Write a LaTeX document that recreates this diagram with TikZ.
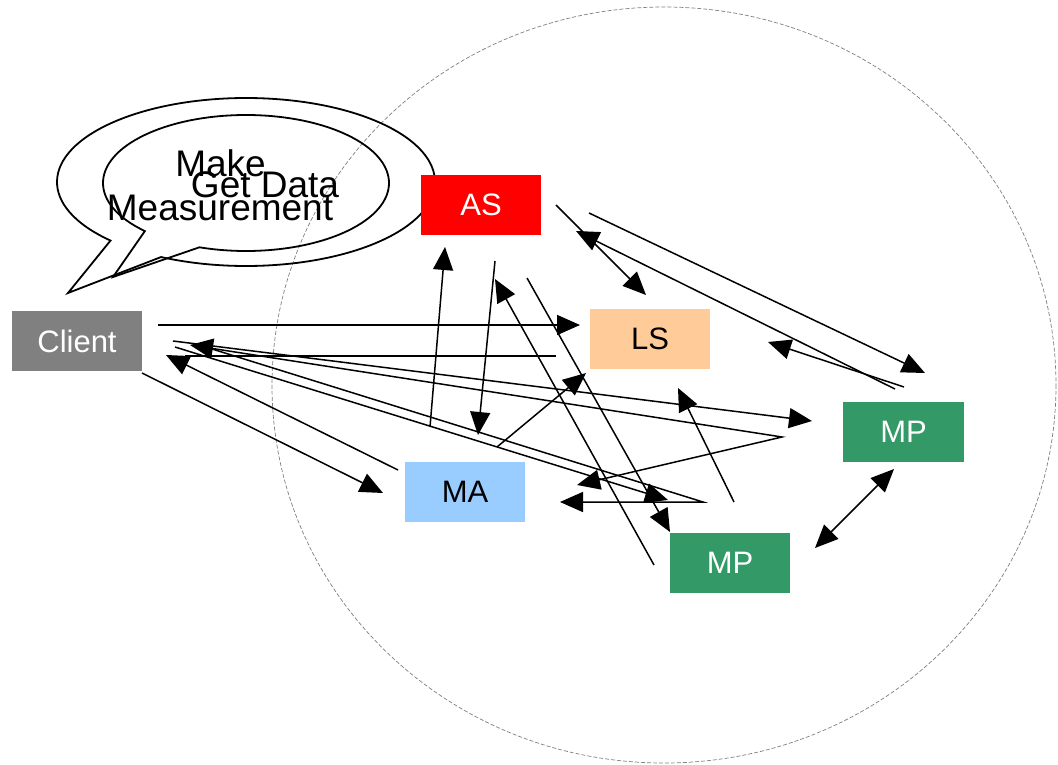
\documentclass[tikz,border=0pt]{standalone}
\usepackage{fontspec}
\setmainfont{Liberation Sans}
\usetikzlibrary{arrows.meta}
\definecolor{asred}{HTML}{FF0000}
\definecolor{lspeach}{HTML}{FFCC99}
\definecolor{clgray}{HTML}{808080}
\definecolor{mablue}{HTML}{99CCFF}
\definecolor{mpgreen}{HTML}{339966}
\tikzset{
  box/.style={rectangle, inner sep=0pt, minimum width=120pt, minimum height=60pt, font=\fontsize{31}{37}\selectfont},
  conn/.style={line width=1.5pt, -{Triangle[length=23pt,width=20pt]}},
  dconn/.style={line width=1.5pt, {Triangle[length=23pt,width=20pt]}-{Triangle[length=23pt,width=20pt]}},
  plainconn/.style={line width=1.5pt},
  bubble/.style={line width=1.8pt, line join=miter},
  bubtext/.style={anchor=base, inner sep=0pt, font=\fontsize{37}{44}\selectfont},
  ring/.style={draw=gray, line width=0.7pt, dash pattern=on 4pt off 2pt}
}
\begin{document}
\begin{tikzpicture}[x=1pt,y=-1pt]
\useasboundingbox (0,0) rectangle (1058,765);
\fill[white] (0,0) rectangle (1058,765);
% dashed domain circle
\draw[ring] (664,385) ellipse[x radius=392, y radius=378];
% speech bubbles
\coordinate (cA) at (246,182);
\coordinate (tipA) at (68,293);
\draw[bubble] (cA) ++(135.8:189 and 84) arc[start angle=135.8, end angle=476.7, x radius=189, y radius=84] -- (tipA) -- cycle;
\coordinate (cB) at (246,183);
\coordinate (tipB) at (113,277);
\draw[bubble] (cB) ++(135:143 and 68) arc[start angle=135, end angle=469, x radius=143, y radius=68] -- (tipB) -- cycle;
\node[bubtext] (tmake) at (220.5,176) {Make};
\node[bubtext] (tgetdata) at (265,197) {Get Data};
\node[bubtext] (tmeas) at (220,220) {Measurement};
% boxes
\node[box, fill=clgray, text=white, minimum width=130pt] (Client) at (77,341) {Client};
\node[box, fill=asred, text=white] (AS) at (481,205) {AS};
\node[box, fill=lspeach, text=black] (LS) at (650,339) {LS};
\node[box, fill=mablue, text=black] (MA) at (465,492) {MA};
\node[box, fill=mpgreen, text=white, minimum width=121pt] (MPa) at (903.5,432) {MP};
\node[box, fill=mpgreen, text=white] (MPb) at (730,563) {MP};
% connector end points
\coordinate (p1a) at (158,325);  \coordinate (p1b) at (580,325);
\coordinate (p2a) at (556,356);  \coordinate (p2b) at (185,356);
\coordinate (p3a) at (398,470);  \coordinate (p3b) at (166,355);
\coordinate (p4a) at (190,345);  \coordinate (p4m) at (782,437); \coordinate (p4b) at (577,485);
\coordinate (p5a) at (173,341);  \coordinate (p5b) at (812,421);
\coordinate (p6a) at (175,347);  \coordinate (p6b) at (668,500);
\coordinate (p7a) at (196,344);  \coordinate (p7m) at (703,502); \coordinate (p7b) at (560,502);
\coordinate (p8a) at (142,373);  \coordinate (p8b) at (383,493);
\coordinate (p9a) at (430,427);  \coordinate (p9b) at (445,247);
\coordinate (p10a) at (495,261); \coordinate (p10b) at (478,435);
\coordinate (p11a) at (654,565); \coordinate (p11b) at (495,279);
\coordinate (p12a) at (527,278); \coordinate (p12b) at (670,532);
\coordinate (p13a) at (497,447); \coordinate (p13b) at (586,373);
\coordinate (p14a) at (556,205); \coordinate (p14b) at (646,295);
\coordinate (p15a) at (895,389); \coordinate (p15b) at (576,231);
\coordinate (p16a) at (589,213); \coordinate (p16b) at (925,373);
\coordinate (p17a) at (904,387); \coordinate (p17b) at (768,342);
\coordinate (p18a) at (815,548); \coordinate (p18b) at (894,469);
\coordinate (p19a) at (734,502); \coordinate (p19b) at (678,388);
% connectors
\draw[conn] (p1a) -- (p1b);
\draw[plainconn] (p2a) -- (p2b);
\draw[conn] (p3a) -- (p3b);
\draw[dconn] (p4a) -- (p4m) -- (p4b);
\draw[conn] (p5a) -- (p5b);
\draw[conn] (p6a) -- (p6b);
\draw[conn] (p7a) -- (p7m) -- (p7b);
\draw[conn] (p8a) -- (p8b);
\draw[conn] (p9a) -- (p9b);
\draw[conn] (p10a) -- (p10b);
\draw[conn] (p11a) -- (p11b);
\draw[conn] (p12a) -- (p12b);
\draw[conn] (p13a) -- (p13b);
\draw[conn] (p14a) -- (p14b);
\draw[conn] (p15a) -- (p15b);
\draw[conn] (p16a) -- (p16b);
\draw[conn] (p17a) -- (p17b);
\draw[dconn] (p18a) -- (p18b);
\draw[conn] (p19a) -- (p19b);
\end{tikzpicture}
\end{document}
